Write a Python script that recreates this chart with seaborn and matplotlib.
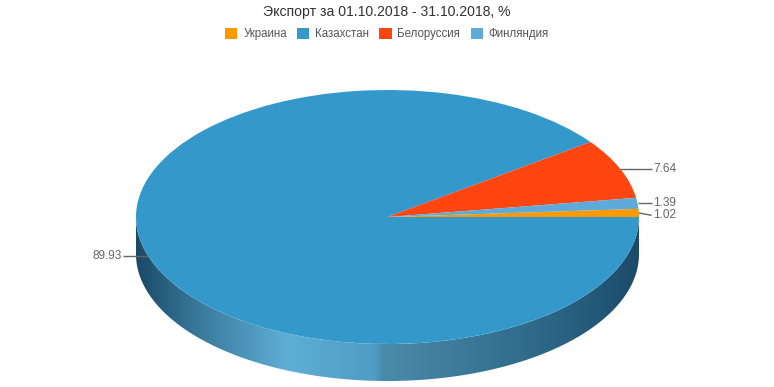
import numpy as np
import matplotlib
matplotlib.use('Agg')
import matplotlib.pyplot as plt
import seaborn as sns
from matplotlib.colors import LinearSegmentedColormap
from matplotlib.patches import Polygon

# ---- data ----
categories = ['Украина', 'Казахстан', 'Белоруссия', 'Финляндия']
values = [1.02, 89.93, 7.64, 1.39]
colors = ['#ff9900', '#3498cb', '#ff4510', '#5eaad8']
title = 'Экспорт за 01.10.2018 - 31.10.2018, %'

sns.set_theme(style='white')
plt.rcParams['font.family'] = ['Liberation Sans', 'DejaVu Sans']

W, H = 774, 387
fig = plt.figure(figsize=(W / 100, H / 100), dpi=100)
ax = fig.add_axes([0, 0, 1, 1])

# geometry (pixels, from bottom-left)
cx, cy, rx, ry = 387.5, 170.0, 251.5, 127.0
depth = 37.0 / ry

# ---- side wall with gradient ----
t = np.linspace(np.pi, 2 * np.pi, 300)
top = np.column_stack([np.cos(t), np.sin(t)])
bot = np.column_stack([np.cos(t[::-1]), np.sin(t[::-1]) - depth])
side = Polygon(np.vstack([top, bot]), closed=True, facecolor='none', edgecolor='none')
ax.add_patch(side)
stops = [(136, '#1b4a68'), (200, '#3a7b9d'), (287, '#5eaed6'), (376, '#4f9cc4'),
         (383, '#4a8aab'), (470, '#3a7898'), (560, '#2a6485'), (639, '#1c4b69')]
cmap = LinearSegmentedColormap.from_list(
    'side', [((p - 136) / 503, c) for p, c in stops])
grad = np.linspace(0, 1, 600).reshape(1, -1)
im = ax.imshow(grad, cmap=cmap, extent=(-1, 1, -1 - depth, 0), aspect='auto',
               interpolation='bilinear', zorder=0)
im.set_clip_path(side)

# ---- top face ----
wedges, _ = ax.pie(values, colors=colors,
                   startangle=360 * values[0] / sum(values),
                   counterclock=False, radius=1, center=(0, 0),
                   wedgeprops=dict(linewidth=0))
ax.set_aspect('auto')
ax.set_xlim(-cx / rx, (W - cx) / rx)
ax.set_ylim(-cy / ry, (H - cy) / ry)
ax.axis('off')

# ---- data labels ----
labels = []
for w, v in zip(wedges, values):
    mid = np.deg2rad((w.theta1 + w.theta2) / 2)
    px, py = np.cos(mid), np.sin(mid)
    labels.append([px, py, py, v])
min_gap = 12.0 / ry
for side_sign in (1, -1):
    grp = sorted([l for l in labels if np.sign(l[0]) == side_sign], key=lambda l: -l[1])
    for i in range(1, len(grp)):
        if grp[i - 1][2] - grp[i][2] < min_gap:
            grp[i][2] = grp[i - 1][2] - min_gap
for px, py, ly, v in labels:
    s = 1 if px > 0 else -1
    ax.plot([px, s * 1.05], [py, ly], color='#666666', lw=1, solid_capstyle='butt', zorder=3)
    ax.text(s * 1.057, ly, f'{v:.2f}', ha='left' if s > 0 else 'right', va='center',
            fontsize=8.5, color='#666666', zorder=4)

# ---- title & legend ----
fig.text(0.5, 1 - 12 / H, title, ha='center', va='center', fontsize=10.1, color='#333333')
fig.legend(wedges, categories, loc='center', bbox_to_anchor=(0.5, 1 - 34 / H), ncol=4,
           frameon=False, fontsize=8.3, handlelength=1.05, handleheight=1.05,
           handletextpad=0.5, columnspacing=0.9, labelcolor='#555555', borderpad=0)

fig.savefig('out.png', dpi=100)
